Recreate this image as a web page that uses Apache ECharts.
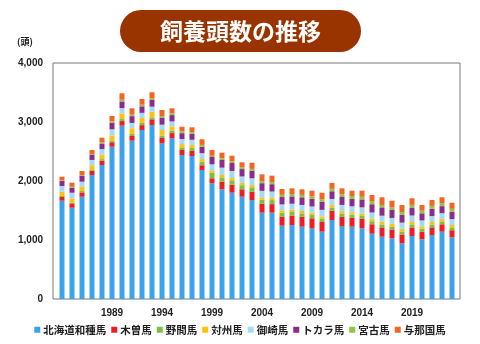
<!DOCTYPE html>
<html><head><meta charset="utf-8">
<script src="https://cdn.jsdelivr.net/npm/echarts@6/dist/echarts.min.js"></script>
<style>html,body{margin:0;padding:0;background:#fff}#c{width:480px;height:344px}</style>
</head><body><div id="c"></div>
<script>
const years = [1984,1985,1986,1987,1988,1989,1990,1991,1992,1993,1994,1995,1996,1997,1998,1999,2000,2001,2002,2003,2004,2005,2006,2007,2008,2009,2010,2011,2012,2013,2014,2015,2016,2017,2018,2019,2020,2021,2022,2023];
const seriesNames = ['北海道和種馬','木曽馬','野間馬','対州馬','御崎馬','トカラ馬','宮古馬','与那国馬'];
const hokkaido = [1666,1547,1734,2102,2271,2581,2937,2683,2865,2949,2639,2724,2441,2424,2187,1961,1859,1802,1734,1678,1463,1463,1243,1254,1226,1198,1141,1339,1237,1226,1198,1107,1056,1029,944,1068,1012,1085,1141,1046];
const kiso     = [63,73,73,70,72,75,79,80,82,96,90,88,85,85,80,85,130,135,125,140,150,145,155,160,170,170,165,160,160,155,160,160,158,150,150,145,130,130,125,120];
const noma     = [17,17,23,25,28,30,34,36,38,34,40,42,45,50,60,95,73,75,70,75,70,68,65,60,56,55,55,52,52,50,50,52,51,50,50,50,48,48,48,48];
const taishu   = [73,68,73,70,75,85,96,95,85,96,95,70,55,50,45,40,40,38,38,38,40,40,40,40,40,40,40,40,40,40,40,42,45,45,45,42,42,42,40,40];
const misaki   = [97,96,85,90,95,105,90,90,85,85,90,85,85,90,100,102,124,120,110,115,110,105,100,100,102,105,110,105,105,100,105,105,102,100,105,110,100,100,100,100];
const tokara   = [85,85,102,85,95,110,113,115,110,113,115,108,100,100,110,124,130,135,125,130,130,125,125,125,130,130,135,130,135,130,135,140,141,135,135,135,120,125,120,125];
const miyako   = [10,17,10,15,20,25,28,28,28,28,30,30,30,30,30,20,28,28,30,30,35,35,38,40,40,40,42,42,45,45,45,45,40,42,45,45,45,48,50,50];
const yonaguni = [62,68,70,69,78,91,110,105,97,103,105,85,79,81,95,99,96,96,85,104,115,109,99,97,95,98,114,98,102,90,103,112,131,115,119,112,96,100,100,103];
const yTicks = [0,1000,2000,3000,4000];
const labelYears = [1989,1994,1999,2004,2009,2014,2019];

const colors = ['#3ba3ec','#ee1c25','#7ac143','#ffc20e','#a3dbf7','#8b2a8f','#8dc63f','#f26522'];
const dataSets = [hokkaido,kiso,noma,taishu,misaki,tokara,miyako,yonaguni];

const chart = echarts.init(document.getElementById('c'));
const numFont = "'Liberation Sans', Arial, sans-serif";
const jpFont = "'Noto Sans CJK JP', sans-serif";
chart.setOption({
  animation:false,
  color: colors,
  graphic:[
    {type:'rect', shape:{x:120,y:10,width:241,height:42,r:21}, style:{fill:'#993300'}},
    {type:'text', x:240.5, y:31, style:{text:'飼養頭数の推移', fill:'#fff', font:"bold 23px 'Noto Sans CJK JP'", align:'center', verticalAlign:'middle'}},
    {type:'text', x:25, y:42, style:{text:'(頭)', fill:'#222', font:"bold 9px 'Noto Sans CJK JP'", align:'center', verticalAlign:'middle'}}
  ],
  grid:[
    {left:57,right:23,top:63,bottom:45},
    {left:53,right:20,top:63,bottom:45,show:true,borderColor:'#777',borderWidth:1,backgroundColor:'transparent'}
  ],
  legend:{
    data:seriesNames, bottom:4, left:'center', itemWidth:6, itemHeight:6, itemGap:5, icon:'rect',
    textStyle:{fontFamily:jpFont, fontWeight:'bold', fontSize:10.5, color:'#222', padding:[0,0,0,-2]}
  },
  xAxis:[{
    type:'category', data:years.map(String), gridIndex:0,
    axisLine:{show:false}, axisTick:{show:false}, splitLine:{show:false},
    axisLabel:{interval:0, margin:9, fontFamily:numFont, fontWeight:'bold', fontSize:10, color:'#222',
      formatter:v=> labelYears.indexOf(+v)>=0 ? v : ''}
  },{type:'value', gridIndex:1, show:false, min:0, max:1}],
  yAxis:[{
    type:'value', gridIndex:0, min:yTicks[0], max:yTicks[yTicks.length-1], interval:1000,
    axisLine:{show:false}, axisTick:{show:false}, splitLine:{show:false},
    axisLabel:{margin:14, fontFamily:numFont, fontWeight:'bold', fontSize:10, color:'#222',
      formatter:v=> v.toLocaleString('en-US')}
  },{type:'value', gridIndex:1, show:false, min:0, max:1}],
  series: seriesNames.map((n,i)=>({
    name:n, type:'bar', stack:'total', barWidth:5,
    itemStyle:{color:colors[i]},
    data: dataSets[i]
  }))
});
</script></body></html>
